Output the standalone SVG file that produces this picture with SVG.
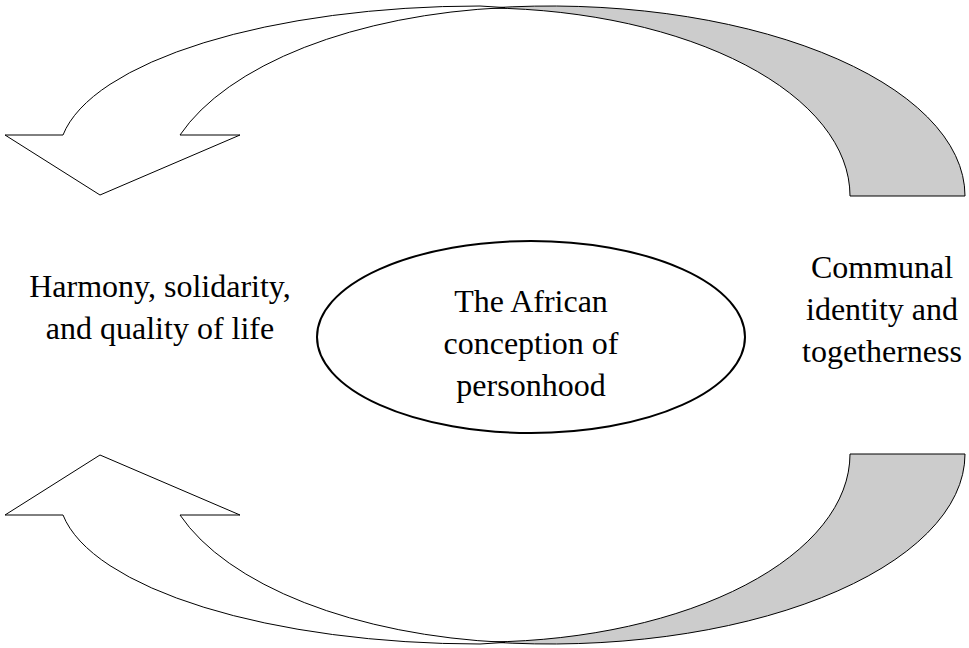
<svg xmlns="http://www.w3.org/2000/svg" width="969" height="648" viewBox="0 0 969 648">
<style>
.back{fill:#cccccc;stroke:#000;stroke-width:1;stroke-linejoin:round}
.front{fill:#ffffff;stroke:#000;stroke-width:1;stroke-linejoin:miter}
.lbl{font-family:"Liberation Serif","Times New Roman",serif;font-size:32px;fill:#000;text-anchor:middle}
</style>
<rect width="969" height="648" fill="#ffffff"/>
<defs>
<g id="curvedArrow">
<path class="back" d="M 490,8 A 415 190 0 0 1 965,196 L 850,196 A 370 188 0 0 0 490,8 Z"/>
<path class="front" d="M 63,135 A 421 150 0 0 1 480,6 L 505,7.6 A 380 188 0 0 0 180,135 L 240,135 L 100,195 L 5,135 Z"/>
</g>
</defs>
<g id="connectors">
<use id="arrow-top" href="#curvedArrow"/>
<use id="arrow-bottom" href="#curvedArrow" transform="matrix(1,0,0,-1,0,650)"/>
</g>
<g id="node-harmony">
<text class="lbl" x="160" y="297">Harmony, solidarity,</text>
<text class="lbl" x="160" y="339">and quality of life</text>
</g>
<g id="node-personhood">
<ellipse cx="531" cy="337" rx="214" ry="96" fill="#ffffff" stroke="#000" stroke-width="2"/>
<text class="lbl" x="531" y="312">The African</text>
<text class="lbl" x="531" y="354">conception of</text>
<text class="lbl" x="531" y="396">personhood</text>
</g>
<g id="node-communal">
<text class="lbl" x="882" y="278">Communal</text>
<text class="lbl" x="882" y="320">identity and</text>
<text class="lbl" x="882" y="362">togetherness</text>
</g>
</svg>
